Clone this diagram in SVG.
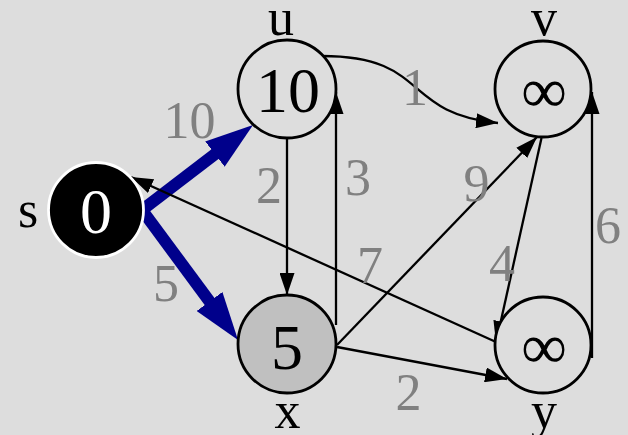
<svg xmlns="http://www.w3.org/2000/svg" width="628" height="435" viewBox="0 0 628 435">
<style>
.bg{fill:#dddddd}
.node{stroke:#000;stroke-width:2.8}
.lbl{font-family:"Liberation Serif","Times New Roman",serif;font-size:52px;fill:#000;text-anchor:middle}
.val{font-family:"Liberation Serif","Times New Roman",serif;font-size:64px;text-anchor:middle}
.w{font-family:"Liberation Serif","Times New Roman",serif;font-size:52px;fill:#808080;text-anchor:middle}
.e{fill:none;stroke:#000;stroke-width:2.3;marker-end:url(#ah)}
.b{fill:none;stroke:#00008b;stroke-width:12;marker-end:url(#bh)}
</style>
<defs>
<marker id="ah" markerWidth="22" markerHeight="15" refX="22" refY="7.5" orient="auto" markerUnits="userSpaceOnUse"><path d="M0,0 L22,7.5 L0,15 z" fill="#000"/></marker>
<marker id="bh" markerWidth="48" markerHeight="32" refX="18" refY="16" orient="auto" markerUnits="userSpaceOnUse"><path d="M0,0 L48,16 L0,32 z" fill="#00008b"/></marker>
</defs>
<rect class="bg" x="0" y="0" width="628" height="435"/>
<g id="connectors">
<path class="b" d="M142,210 L229.2,143.2"/>
<path class="b" d="M142,210 L220.2,315.9"/>
<path class="e" d="M322,56 C430,56 400,113 498,123"/>
<path class="e" d="M287,138 L287,295"/>
<path class="e" d="M336,325 L336,92"/>
<path class="e" d="M337,345 L537,137"/>
<path class="e" d="M541.5,138 L496,343"/>
<path class="e" d="M592,358 L592,92"/>
<path class="e" d="M337,347 L507,379"/>
<path class="e" d="M496,342 L131,177"/>
</g>
<g id="edge-labels">
<text class="w" x="189.5" y="138">10</text>
<text class="w" x="415" y="105">1</text>
<text class="w" x="269" y="203">2</text>
<text class="w" x="358" y="195">3</text>
<text class="w" x="476.5" y="201">9</text>
<text class="w" x="370" y="283">7</text>
<text class="w" x="502" y="281">4</text>
<text class="w" x="608" y="243">6</text>
<text class="w" x="166" y="301">5</text>
<text class="w" x="408.5" y="410">2</text>
</g>
<g id="node-s">
<circle cx="96" cy="210" r="47.5" fill="#000" stroke="#fff" stroke-width="2.8"/>
<text class="val" x="96" y="233" fill="#fff">0</text>
<text class="lbl" x="28" y="227">s</text>
</g>
<g id="node-u">
<circle class="node" cx="287" cy="89" r="49" fill="#dddddd"/>
<text class="val" x="288" y="112" fill="#000">10</text>
<text class="lbl" x="281" y="35">u</text>
</g>
<g id="node-v">
<circle class="node" cx="543" cy="89" r="48" fill="#dddddd"/>
<text class="val" x="544" y="112" fill="#000">∞</text>
<text class="lbl" x="544" y="35">v</text>
</g>
<g id="node-x">
<circle class="node" cx="287" cy="344" r="49" fill="#c0c0c0"/>
<text class="val" x="287" y="369" fill="#000">5</text>
<text class="lbl" x="287.5" y="428">x</text>
</g>
<g id="node-y">
<circle class="node" cx="543" cy="345" r="48" fill="#dddddd"/>
<text class="val" x="544" y="368" fill="#000">∞</text>
<text class="lbl" x="544" y="428">y</text>
</g>
</svg>
